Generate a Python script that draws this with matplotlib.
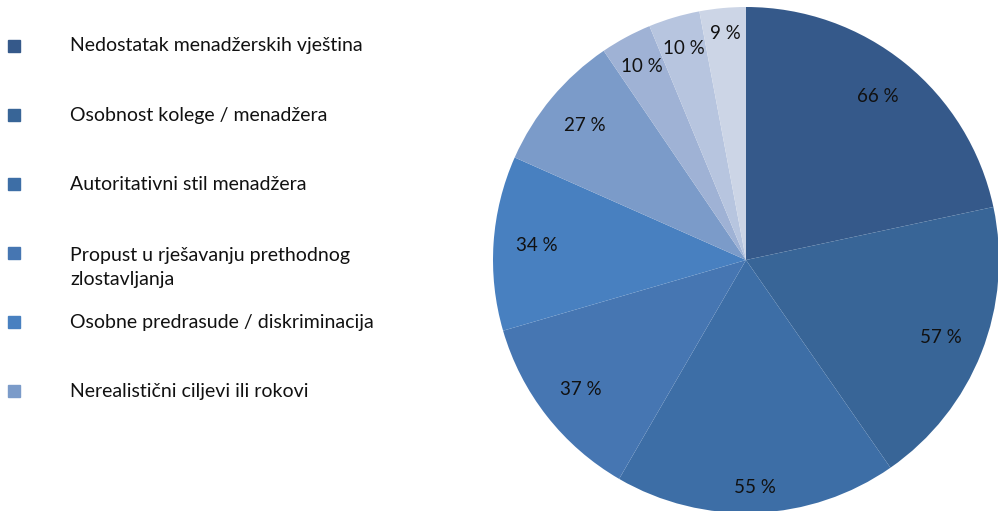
import matplotlib
matplotlib.use("Agg")
from matplotlib import pyplot as plt
from matplotlib.patches import Rectangle
import numpy as np

# Values shown on the slices (in %)
categories = [
    "Nedostatak menadžerskih vještina",
    "Osobnost kolege / menadžera",
    "Autoritativni stil menadžera",
    "Propust u rješavanju prethodnog\nzlostavljanja",
    "Osobne predrasude / diskriminacija",
    "Nerealistični ciljevi ili rokovi",
    "Ostalo 1",
    "Ostalo 2",
    "Ostalo 3",
]
values = [66, 57, 55, 37, 34, 27, 10, 10, 9]
colors = ["#35598a", "#386597", "#3d6ea6", "#4676b2", "#4880c0",
          "#7b9bc9", "#9fb2d5", "#b7c5df", "#ccd5e6"]
label_dist = [0.83, 0.83, 0.90, 0.83, 0.83, 0.83, 0.87, 0.87, 0.90]

# Only the first six entries appear in the legend
legend_count = 6

fig = plt.figure(figsize=(9.98, 5.11), dpi=100)
plt.rcParams['font.family'] = ['Lato', 'DejaVu Sans']

W, H = 998, 511
cx, cy, r = 746, 260, 253
ax = fig.add_axes([(cx - r) / W, (H - cy - r) / H, 2 * r / W, 2 * r / H])
wedges, _ = ax.pie(values, colors=colors, startangle=90, counterclock=False,
                   radius=1, wedgeprops={"linewidth": 0})
for w, v, d in zip(wedges, values, label_dist):
    a = np.deg2rad((w.theta1 + w.theta2) / 2)
    ax.text(d * np.cos(a), d * np.sin(a), "%d %%" % v, fontsize=13.5,
            color="#111111", ha="center", va="center")
ax.set_xlim(-1, 1)
ax.set_ylim(-1, 1)
ax.set_aspect("equal")
ax.axis("off")

# Manual legend on the left
y_rows = [46, 115, 184, 253, 322, 391]
for i in range(legend_count):
    y = y_rows[i]
    fig.patches.append(Rectangle((8 / W, (H - y - 6) / H), 12 / W, 12 / H,
                                 transform=fig.transFigure, color=colors[i]))
    n_lines = categories[i].count("\n") + 1
    fig.text(70 / W, (H - y - 14 * (n_lines - 1)) / H, categories[i],
             fontsize=14, color="#111111", ha="left", va="center",
             linespacing=1.5)

fig.savefig("out.png", dpi=100)
